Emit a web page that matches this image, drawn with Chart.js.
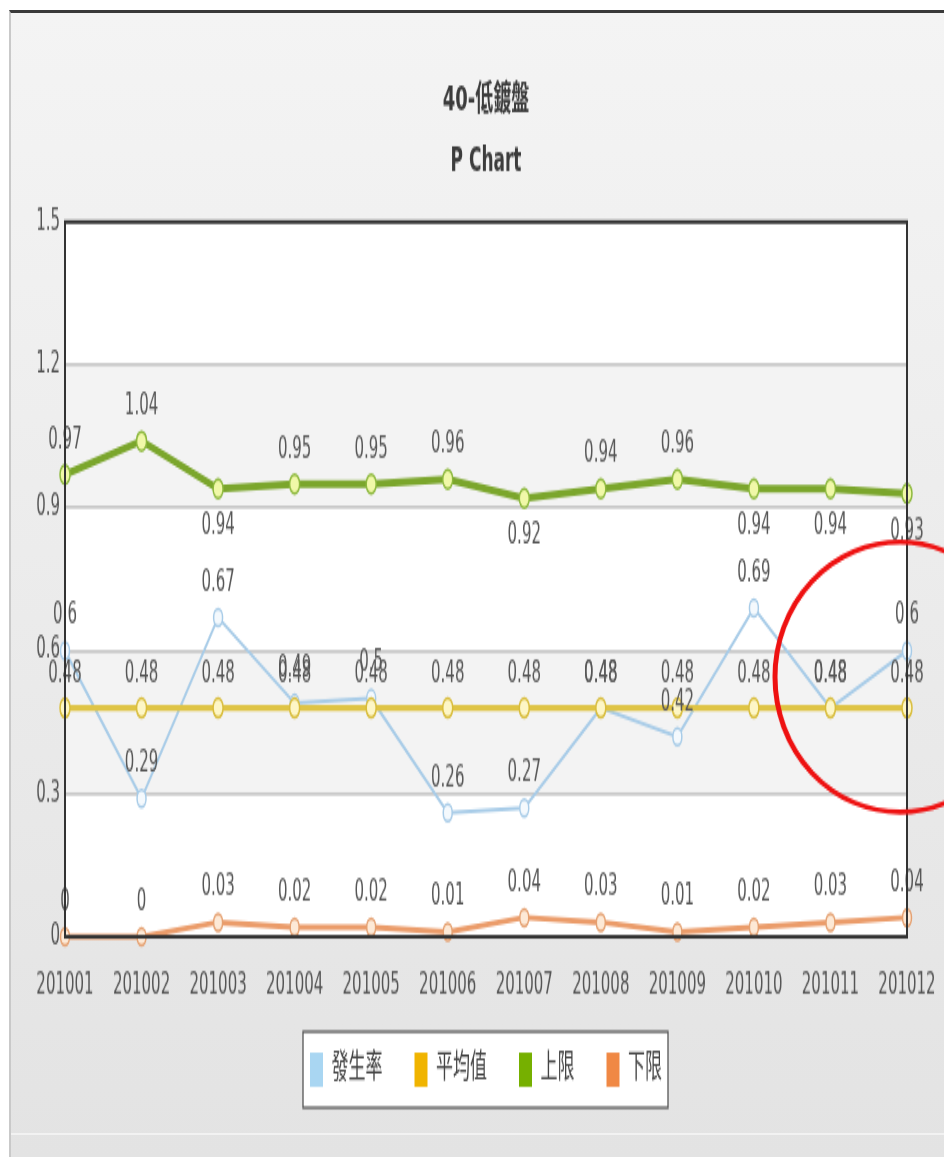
<!DOCTYPE html>
<html>
<head>
<meta charset="utf-8">
<title>40-低鍍盤 P Chart</title>
<script src="https://cdn.jsdelivr.net/npm/chart.js@4.4.1/dist/chart.umd.min.js"></script>
<style>
  html, body { margin: 0; padding: 0; background: #ffffff; }
  body { width: 944px; height: 1157px; position: relative; overflow: hidden; }
  #frame {
    position: absolute; left: 9px; top: 10px; right: 0; bottom: 0;
    border-top: 3px solid #3a3a3a; border-left: 2px solid #c9c9c9;
    background: linear-gradient(#f4f4f4, #e3e3e3);
  }
  #frame .rule { position: absolute; left: 0; right: 0; top: 1120px; height: 2px; background: #f2f2f2; }
  /* the chart is laid out on a short canvas and stretched vertically */
  #c { position: absolute; left: 0; top: 0; transform: scaleY(1.9); transform-origin: 0 0; }
</style>
</head>
<body>
<div id="frame"><div class="rule"></div></div>
<canvas id="c" width="944" height="609"></canvas>
<script>
// ---- data ----
const months = ['201001', '201002', '201003', '201004', '201005', '201006',
                '201007', '201008', '201009', '201010', '201011', '201012'];
const rate = [0.6, 0.29, 0.67, 0.49, 0.5, 0.26, 0.27, 0.48, 0.42, 0.69, 0.48, 0.6];
const mean = [0.48, 0.48, 0.48, 0.48, 0.48, 0.48, 0.48, 0.48, 0.48, 0.48, 0.48, 0.48];
const ucl = [0.97, 1.04, 0.94, 0.95, 0.95, 0.96, 0.92, 0.94, 0.96, 0.94, 0.94, 0.93];
const lcl = [0, 0, 0.03, 0.02, 0.02, 0.01, 0.04, 0.03, 0.01, 0.02, 0.03, 0.04];
const seriesNames = ['發生率', '平均值', '上限', '下限'];
const yTicks = [0, 0.3, 0.6, 0.9, 1.2, 1.5];
const yTickLabels = ['0', '0.3', '0.6', '0.9', '1.2', '1.5'];

// ---- styling ----
const STRETCH = 1.9;
const legendColors = ['#a9d6f2', '#f0b400', '#76b000', '#f08844'];
const FONT = '"DejaVu Sans", "Noto Sans CJK TC", sans-serif';

function lineSeries(idx, data, line, pointFill, pointEdge, width, radius, order, placement) {
  return {
    label: seriesNames[idx], data,
    borderColor: line, backgroundColor: line, borderWidth: width,
    pointRadius: radius, pointBackgroundColor: pointFill,
    pointBorderColor: pointEdge, pointBorderWidth: 1.5,
    tension: 0, clip: false, order, labelPlacement: placement
  };
}

// value labels above (or below, for a falling control limit) each point
const valueLabels = {
  id: 'valueLabels',
  afterDatasetsDraw(chart) {
    const ctx = chart.ctx;
    ctx.save();
    ctx.font = '15px ' + FONT;
    ctx.fillStyle = '#575757';
    ctx.textAlign = 'center';
    ctx.textBaseline = 'middle';
    chart.data.datasets.forEach((ds, di) => {
      const meta = chart.getDatasetMeta(di);
      let below = false;
      meta.data.forEach((pt, i) => {
        const v = ds.data[i];
        if (ds.labelPlacement === 'auto' && i > 0) {
          const prev = ds.data[i - 1];
          if (v < prev) below = true; else if (v > prev) below = false;
        }
        ctx.fillText(String(v), pt.x, below ? pt.y + 20 : pt.y - 18);
      });
    });
    ctx.restore();
  }
};

// plot background bands, frame, legend box and the highlight ring
const plotFrame = {
  id: 'plotFrame',
  beforeDraw(chart) {
    const { ctx, chartArea: a, scales: { y } } = chart;
    ctx.save();
    ctx.fillStyle = '#ffffff';
    ctx.fillRect(a.left, a.top, a.width, a.height);
    ctx.fillStyle = '#f3f3f3';
    for (let k = 1; k + 1 < yTicks.length; k += 2) {
      const top = y.getPixelForValue(yTicks[k + 1]);
      const bot = y.getPixelForValue(yTicks[k]);
      ctx.fillRect(a.left, top, a.width, bot - top);
    }
    const b = legendBounds(chart);
    if (b) {
      ctx.fillStyle = '#ffffff';
      ctx.fillRect(b.l, b.t, b.r - b.l, b.b - b.t);
    }
    ctx.restore();
  },
  afterDraw(chart) {
    const { ctx, chartArea: a, scales: { x, y } } = chart;
    ctx.save();
    ctx.strokeStyle = '#333333';
    ctx.lineWidth = 2;
    ctx.strokeRect(a.left, a.top, a.width, a.height);

    const b = legendBounds(chart);
    if (b) {
      ctx.strokeStyle = '#555555';
      ctx.lineWidth = 1.3;
      ctx.strokeRect(b.l, b.t, b.r - b.l, b.b - b.t);
    }

    // red ring around the last months
    const cx = x.getPixelForValue(months.length - 1) - 7;
    const cy = y.getPixelForValue(0.545);
    ctx.translate(cx, cy);
    ctx.scale(1, 1 / STRETCH);
    ctx.beginPath();
    ctx.ellipse(0, 0, 125, 135, 0, 0, Math.PI * 2);
    ctx.strokeStyle = '#ee1111';
    ctx.lineWidth = 5;
    ctx.stroke();
    ctx.restore();
  }
};

function legendBounds(chart) {
  const hb = chart.legend && chart.legend.legendHitBoxes;
  if (!hb || !hb.length) return null;
  const first = hb[0], last = hb[hb.length - 1];
  return { l: first.left - 7, r: last.left + last.width + 6, t: first.top - 11, b: first.top + first.height + 11 };
}

new Chart(document.getElementById('c'), {
  type: 'line',
  data: {
    labels: months,
    datasets: [
      lineSeries(0, rate, '#a8cce8', '#f4f9fd', '#a8cce8', 2, 4.5, 4, 'above'),
      lineSeries(1, mean, '#dfc445', '#fdf6c6', '#d9bd3c', 3.2, 5, 3, 'above'),
      lineSeries(2, ucl, '#7ba62c', '#f0f8a8', '#8cb83c', 4, 5, 2, 'auto'),
      lineSeries(3, lcl, '#eb9c6a', '#fde9d6', '#e5a070', 2.8, 4.5, 1, 'above')
    ]
  },
  options: {
    responsive: false,
    animation: false,
    devicePixelRatio: 1,
    events: [],
    layout: { padding: { top: 30, left: 15, right: 37, bottom: 27 } },
    scales: {
      x: {
        grid: { display: false },
        border: { display: false },
        ticks: { padding: 8.7, maxRotation: 0, autoSkip: false, color: '#555555', font: { family: FONT, size: 15 } },
        afterFit: s => {
          s.height = 29;
          s.paddingLeft = 0;
          s.paddingRight = 0;
          // the month labels hang slightly below this short band
          s._computeLabelArea = () => undefined;
        }
      },
      y: {
        min: 0, max: 1.5,
        grid: { color: '#c9c9c9', lineWidth: 1.8, drawTicks: false },
        border: { display: false },
        ticks: {
          padding: 5, color: '#555555', font: { family: FONT, size: 15 },
          callback: (v, i) => yTickLabels[i]
        },
        afterBuildTicks: s => { s.ticks = yTicks.map(v => ({ value: v })); },
        afterFit: s => { s.width = 50; }
      }
    },
    plugins: {
      tooltip: { enabled: false },
      title: {
        display: true, text: '40-低鍍盤', fullSize: false, color: '#3c3c3c',
        font: { family: FONT, size: 18, weight: 'bold' }, padding: { top: 12.3, bottom: 0 }
      },
      subtitle: {
        display: true, text: 'P Chart', fullSize: false, color: '#3c3c3c',
        font: { family: FONT, size: 17, weight: 'bold' }, padding: { top: 11.1, bottom: 21.4 }
      },
      legend: {
        position: 'bottom', fullSize: false,
        labels: {
          boxWidth: 13, boxHeight: 18, padding: 32, color: '#444444',
          font: { family: FONT, size: 17 },
          sort: (a, b) => a.datasetIndex - b.datasetIndex,
          generateLabels: chart => chart.data.datasets.map((ds, i) => ({
            text: ds.label, fillStyle: legendColors[i], strokeStyle: legendColors[i],
            lineWidth: 0, hidden: false, datasetIndex: i, fontColor: '#444444'
          }))
        }
      }
    }
  },
  plugins: [plotFrame, valueLabels]
});
</script>
</body>
</html>
